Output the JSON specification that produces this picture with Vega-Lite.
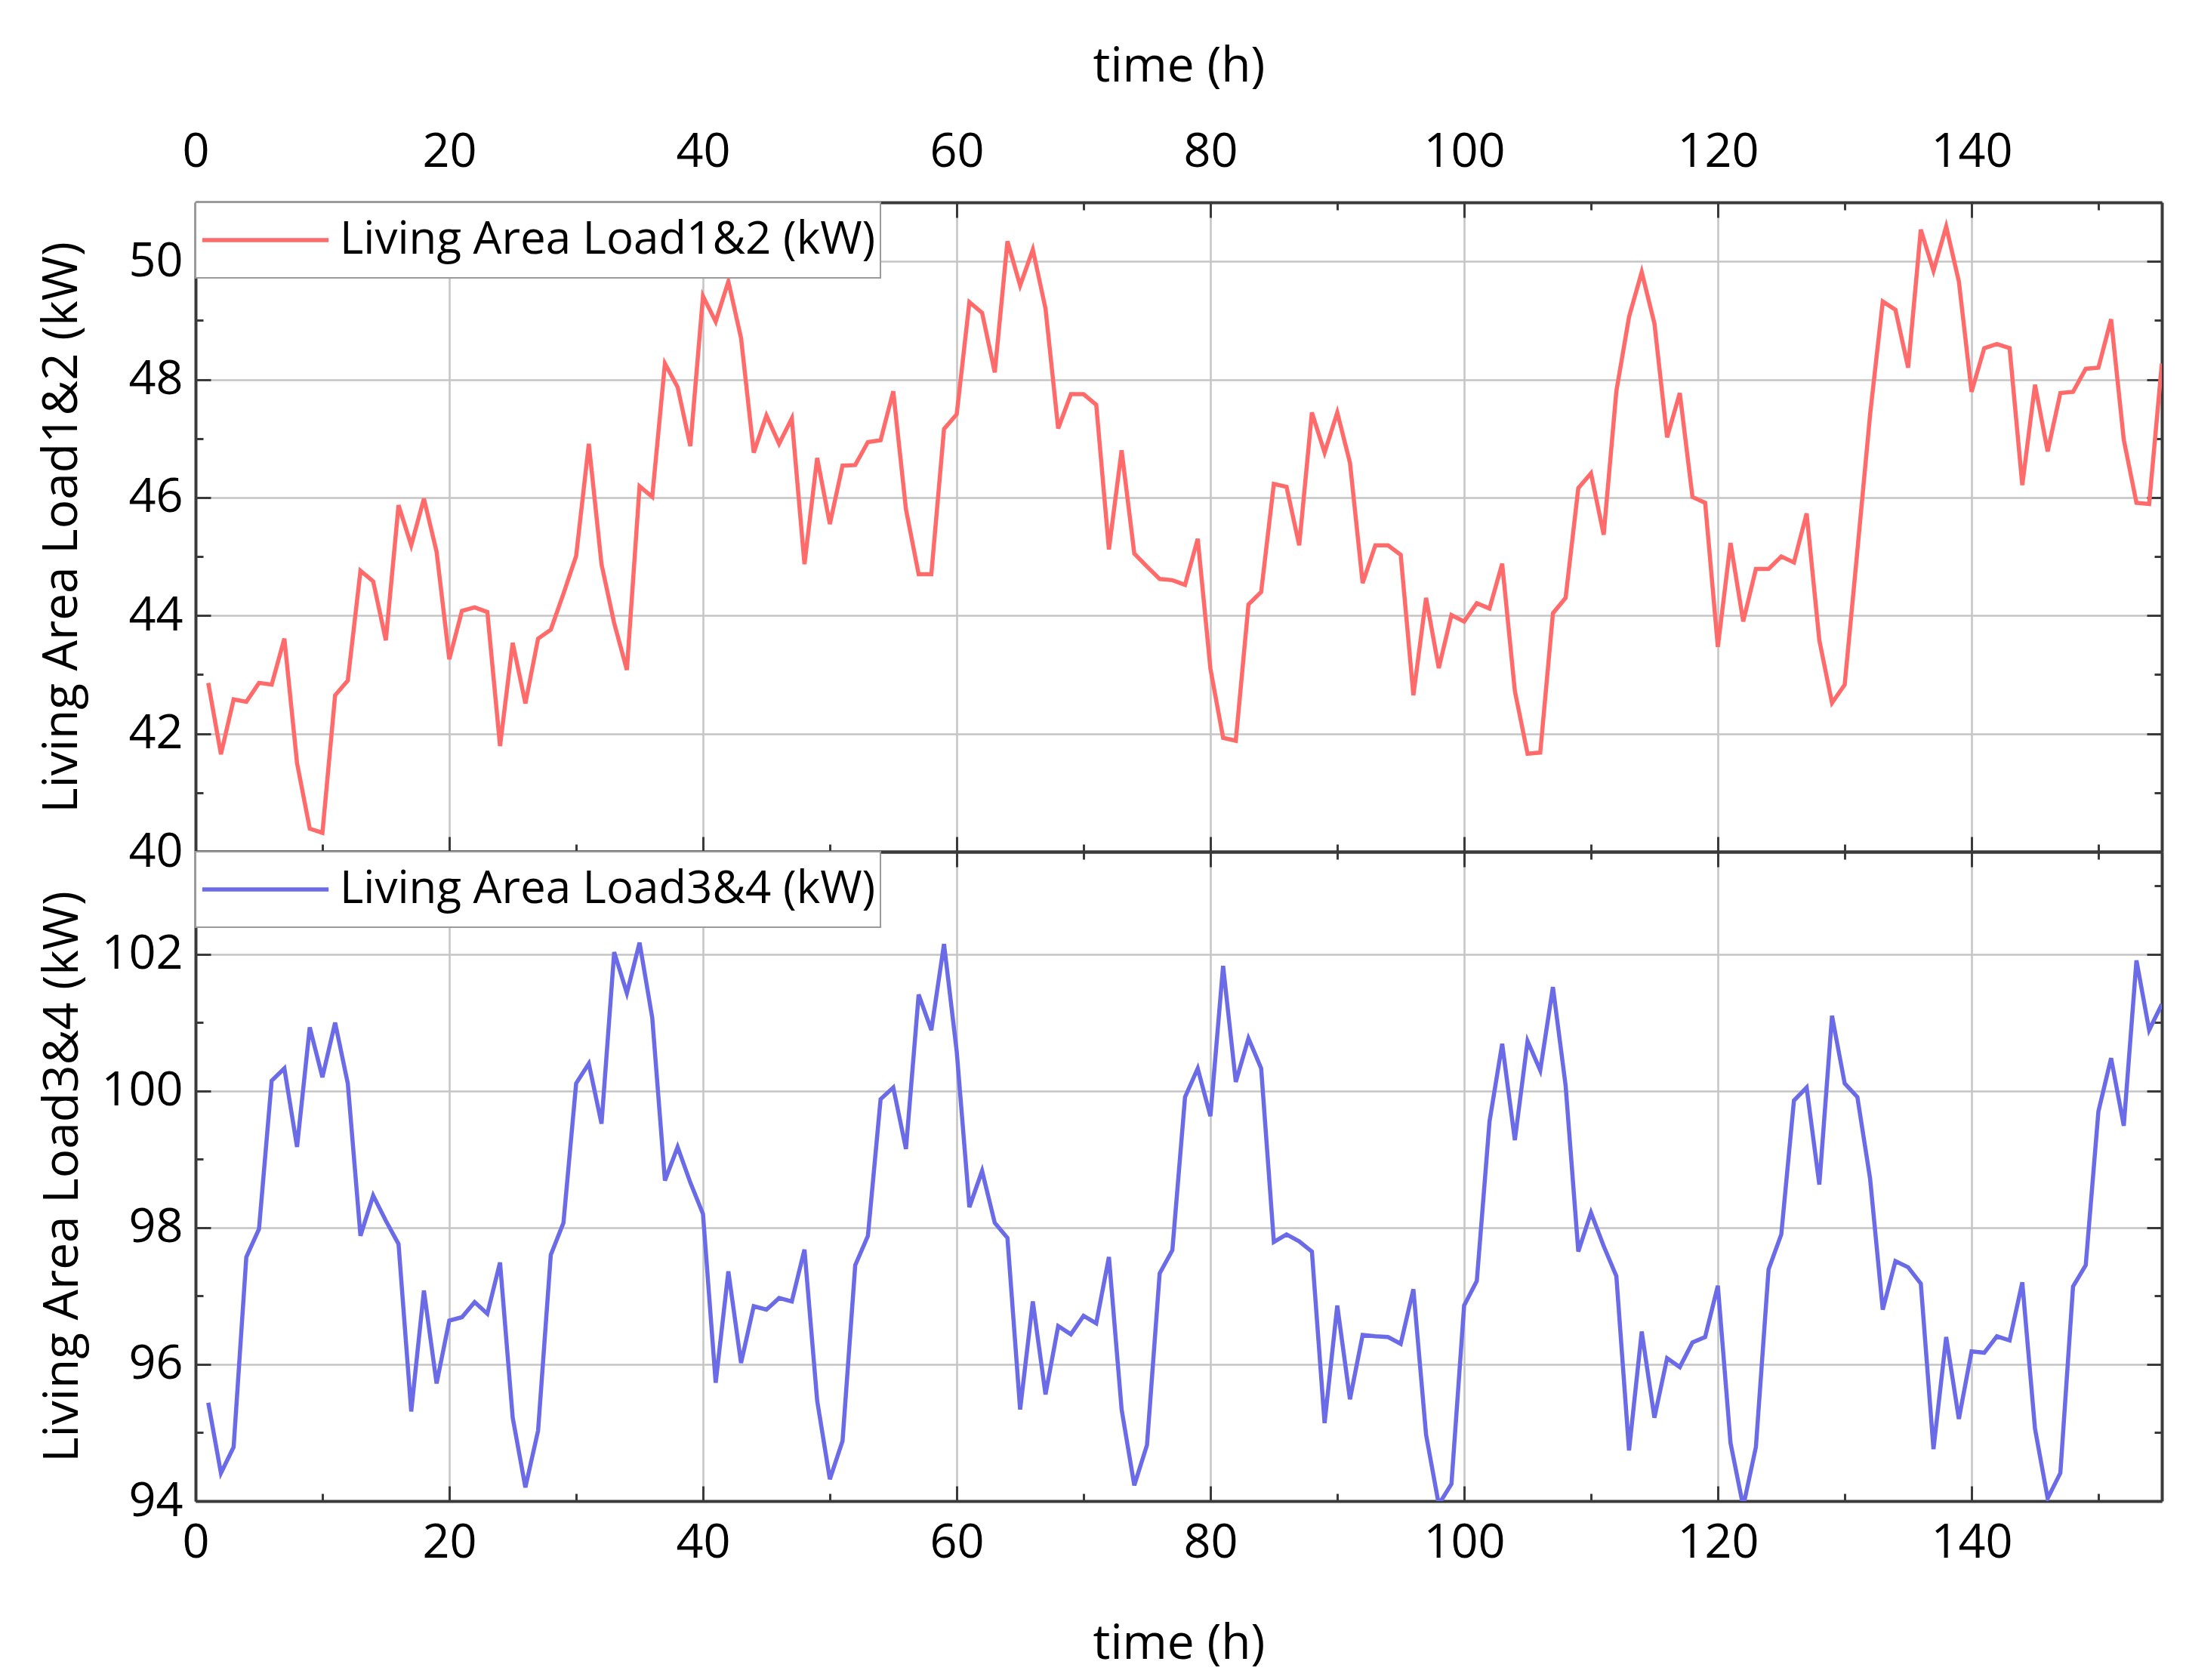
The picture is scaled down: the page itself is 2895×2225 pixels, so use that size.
{
  "$schema": "https://vega.github.io/schema/vega-lite/v6.json",
  "description": "Living area loads over time, two stacked panels",
  "background": "white",
  "padding": {"left": 50, "top": 56, "right": 30, "bottom": 10},
  "spacing": 0,
  "bounds": "flush",
  "data": {
    "values": [
      {"hour": 1, "a": 42.86, "b": 95.44}, {"hour": 2, "a": 41.65, "b": 94.41}, {"hour": 3, "a": 42.58, "b": 94.79},
      {"hour": 4, "a": 42.54, "b": 97.57}, {"hour": 5, "a": 42.86, "b": 97.98}, {"hour": 6, "a": 42.83, "b": 100.15},
      {"hour": 7, "a": 43.61, "b": 100.33}, {"hour": 8, "a": 41.5, "b": 99.18}, {"hour": 9, "a": 40.39, "b": 100.93},
      {"hour": 10, "a": 40.32, "b": 100.2}, {"hour": 11, "a": 42.65, "b": 101.0}, {"hour": 12, "a": 42.9, "b": 100.11},
      {"hour": 13, "a": 44.76, "b": 97.88}, {"hour": 14, "a": 44.58, "b": 98.47}, {"hour": 15, "a": 43.58, "b": 98.1},
      {"hour": 16, "a": 45.87, "b": 97.76}, {"hour": 17, "a": 45.19, "b": 95.31}, {"hour": 18, "a": 45.98, "b": 97.08},
      {"hour": 19, "a": 45.08, "b": 95.72}, {"hour": 20, "a": 43.26, "b": 96.64}, {"hour": 21, "a": 44.08, "b": 96.69},
      {"hour": 22, "a": 44.14, "b": 96.91}, {"hour": 23, "a": 44.06, "b": 96.74}, {"hour": 24, "a": 41.79, "b": 97.49},
      {"hour": 25, "a": 43.54, "b": 95.22}, {"hour": 26, "a": 42.51, "b": 94.2}, {"hour": 27, "a": 43.61, "b": 95.03},
      {"hour": 28, "a": 43.76, "b": 97.6}, {"hour": 29, "a": 44.37, "b": 98.07}, {"hour": 30, "a": 45.01, "b": 100.11},
      {"hour": 31, "a": 46.91, "b": 100.4}, {"hour": 32, "a": 44.87, "b": 99.52}, {"hour": 33, "a": 43.87, "b": 102.03},
      {"hour": 34, "a": 43.08, "b": 101.43}, {"hour": 35, "a": 46.19, "b": 102.17}, {"hour": 36, "a": 46.01, "b": 101.07},
      {"hour": 37, "a": 48.27, "b": 98.69}, {"hour": 38, "a": 47.87, "b": 99.18}, {"hour": 39, "a": 46.87, "b": 98.66},
      {"hour": 40, "a": 49.41, "b": 98.2}, {"hour": 41, "a": 48.98, "b": 95.73}, {"hour": 42, "a": 49.66, "b": 97.36},
      {"hour": 43, "a": 48.7, "b": 96.02}, {"hour": 44, "a": 46.76, "b": 96.85}, {"hour": 45, "a": 47.39, "b": 96.8},
      {"hour": 46, "a": 46.91, "b": 96.97}, {"hour": 47, "a": 47.34, "b": 96.92}, {"hour": 48, "a": 44.87, "b": 97.68},
      {"hour": 49, "a": 46.67, "b": 95.47}, {"hour": 50, "a": 45.55, "b": 94.32}, {"hour": 51, "a": 46.54, "b": 94.88},
      {"hour": 52, "a": 46.55, "b": 97.45}, {"hour": 53, "a": 46.94, "b": 97.88}, {"hour": 54, "a": 46.97, "b": 99.88},
      {"hour": 55, "a": 47.8, "b": 100.05}, {"hour": 56, "a": 45.8, "b": 99.15}, {"hour": 57, "a": 44.7, "b": 101.41},
      {"hour": 58, "a": 44.7, "b": 100.89}, {"hour": 59, "a": 47.16, "b": 102.15}, {"hour": 60, "a": 47.41, "b": 100.58},
      {"hour": 61, "a": 49.31, "b": 98.3}, {"hour": 62, "a": 49.13, "b": 98.83}, {"hour": 63, "a": 48.12, "b": 98.07},
      {"hour": 64, "a": 50.34, "b": 97.85}, {"hour": 65, "a": 49.59, "b": 95.34}, {"hour": 66, "a": 50.2, "b": 96.92},
      {"hour": 67, "a": 49.2, "b": 95.56}, {"hour": 68, "a": 47.17, "b": 96.56}, {"hour": 69, "a": 47.75, "b": 96.44},
      {"hour": 70, "a": 47.75, "b": 96.71}, {"hour": 71, "a": 47.57, "b": 96.6}, {"hour": 72, "a": 45.12, "b": 97.57},
      {"hour": 73, "a": 46.8, "b": 95.34}, {"hour": 74, "a": 45.05, "b": 94.23}, {"hour": 75, "a": 44.83, "b": 94.82},
      {"hour": 76, "a": 44.62, "b": 97.33}, {"hour": 77, "a": 44.6, "b": 97.67}, {"hour": 78, "a": 44.52, "b": 99.91},
      {"hour": 79, "a": 45.3, "b": 100.33}, {"hour": 80, "a": 43.1, "b": 99.63}, {"hour": 81, "a": 41.93, "b": 101.83},
      {"hour": 82, "a": 41.88, "b": 100.13}, {"hour": 83, "a": 44.19, "b": 100.77}, {"hour": 84, "a": 44.4, "b": 100.33},
      {"hour": 85, "a": 46.23, "b": 97.79}, {"hour": 86, "a": 46.18, "b": 97.9}, {"hour": 87, "a": 45.19, "b": 97.8},
      {"hour": 88, "a": 47.44, "b": 97.65}, {"hour": 89, "a": 46.76, "b": 95.14}, {"hour": 90, "a": 47.44, "b": 96.86},
      {"hour": 91, "a": 46.59, "b": 95.49}, {"hour": 92, "a": 44.55, "b": 96.43}, {"hour": 93, "a": 45.19, "b": 96.41},
      {"hour": 94, "a": 45.19, "b": 96.4}, {"hour": 95, "a": 45.03, "b": 96.3}, {"hour": 96, "a": 42.65, "b": 97.1},
      {"hour": 97, "a": 44.3, "b": 94.97}, {"hour": 98, "a": 43.11, "b": 93.95}, {"hour": 99, "a": 44.01, "b": 94.25},
      {"hour": 100, "a": 43.9, "b": 96.86}, {"hour": 101, "a": 44.21, "b": 97.22}, {"hour": 102, "a": 44.12, "b": 99.55},
      {"hour": 103, "a": 44.88, "b": 100.69}, {"hour": 104, "a": 42.72, "b": 99.28}, {"hour": 105, "a": 41.66, "b": 100.73},
      {"hour": 106, "a": 41.68, "b": 100.3}, {"hour": 107, "a": 44.04, "b": 101.52}, {"hour": 108, "a": 44.3, "b": 100.08},
      {"hour": 109, "a": 46.16, "b": 97.65}, {"hour": 110, "a": 46.41, "b": 98.22}, {"hour": 111, "a": 45.37, "b": 97.73},
      {"hour": 112, "a": 47.8, "b": 97.29}, {"hour": 113, "a": 49.06, "b": 94.74}, {"hour": 114, "a": 49.82, "b": 96.48},
      {"hour": 115, "a": 48.95, "b": 95.22}, {"hour": 116, "a": 47.02, "b": 96.09}, {"hour": 117, "a": 47.77, "b": 95.96},
      {"hour": 118, "a": 46.01, "b": 96.32}, {"hour": 119, "a": 45.91, "b": 96.4}, {"hour": 120, "a": 43.47, "b": 97.15},
      {"hour": 121, "a": 45.23, "b": 94.85}, {"hour": 122, "a": 43.9, "b": 93.92}, {"hour": 123, "a": 44.79, "b": 94.79},
      {"hour": 124, "a": 44.79, "b": 97.39}, {"hour": 125, "a": 45.0, "b": 97.9}, {"hour": 126, "a": 44.9, "b": 99.86},
      {"hour": 127, "a": 45.73, "b": 100.05}, {"hour": 128, "a": 43.58, "b": 98.63}, {"hour": 129, "a": 42.52, "b": 101.1},
      {"hour": 130, "a": 42.83, "b": 100.11}, {"hour": 131, "a": 45.1, "b": 99.91}, {"hour": 132, "a": 47.4, "b": 98.72},
      {"hour": 133, "a": 49.32, "b": 96.8}, {"hour": 134, "a": 49.18, "b": 97.51}, {"hour": 135, "a": 48.2, "b": 97.42},
      {"hour": 136, "a": 50.54, "b": 97.18}, {"hour": 137, "a": 49.84, "b": 94.76}, {"hour": 138, "a": 50.59, "b": 96.4},
      {"hour": 139, "a": 49.66, "b": 95.2}, {"hour": 140, "a": 47.79, "b": 96.19}, {"hour": 141, "a": 48.53, "b": 96.17},
      {"hour": 142, "a": 48.6, "b": 96.41}, {"hour": 143, "a": 48.53, "b": 96.35}, {"hour": 144, "a": 46.21, "b": 97.2},
      {"hour": 145, "a": 47.91, "b": 95.06}, {"hour": 146, "a": 46.78, "b": 94.04}, {"hour": 147, "a": 47.77, "b": 94.41},
      {"hour": 148, "a": 47.79, "b": 97.14}, {"hour": 149, "a": 48.18, "b": 97.45}, {"hour": 150, "a": 48.2, "b": 99.7},
      {"hour": 151, "a": 49.02, "b": 100.48}, {"hour": 152, "a": 46.98, "b": 99.49}, {"hour": 153, "a": 45.91, "b": 101.91},
      {"hour": 154, "a": 45.89, "b": 100.89}, {"hour": 155, "a": 48.27, "b": 101.27}
    ]
  },
  "resolve": {"scale": {"color": "independent", "y": "independent"}, "legend": {"color": "independent"}},
  "vconcat": [
    {
      "width": 2604,
      "height": 860,
      "layer": [
        {
          "mark": {"type": "line", "strokeWidth": 5.5, "clip": true},
          "encoding": {
            "x": {
              "field": "hour", "type": "quantitative",
              "scale": {"domain": [0, 155], "nice": false, "zero": false},
              "axis": {
                "orient": "top", "title": "time (h)",
                "values": [0, 10, 20, 30, 40, 50, 60, 70, 80, 90, 100, 110, 120, 130, 140, 150],
                "labelExpr": "datum.value % 20 === 0 ? datum.label : ''",
                "tickSize": {"condition": {"test": "datum.value % 20 === 0", "value": -20}, "value": -10},
                "labelPadding": 55, "titlePadding": 40,
                "grid": true,
                "gridOpacity": {"condition": {"test": "datum.value % 20 === 0", "value": 1}, "value": 0}
              }
            },
            "y": {
              "field": "a", "type": "quantitative",
              "scale": {"domain": [40, 51], "nice": false, "zero": false},
              "axis": {
                "orient": "left", "title": "Living Area Load1&2 (kW)",
                "values": [40, 41, 42, 43, 44, 45, 46, 47, 48, 49, 50, 51],
                "labelExpr": "datum.value % 2 === 0 ? datum.label : ''",
                "tickSize": {"condition": {"test": "datum.value % 2 === 0", "value": -20}, "value": -10},
                "labelPadding": 37, "titlePadding": 55,
                "grid": true,
                "gridOpacity": {"condition": {"test": "datum.value % 2 === 0", "value": 1}, "value": 0}
              }
            },
            "color": {
              "datum": "Living Area Load1&2 (kW)",
              "scale": {"range": ["#ff6b6b"]},
              "legend": {"orient": "top-left", "offset": 0, "title": null}
            }
          }
        },
        {
          "mark": {"type": "line", "strokeOpacity": 0},
          "encoding": {
            "x": {
              "field": "hour", "type": "quantitative",
              "axis": {
                "orient": "bottom", "title": null, "labels": false, "grid": false,
                "values": [0, 10, 20, 30, 40, 50, 60, 70, 80, 90, 100, 110, 120, 130, 140, 150],
                "tickSize": {"condition": {"test": "datum.value % 20 === 0", "value": -20}, "value": -10}
              }
            },
            "y": {
              "field": "a", "type": "quantitative",
              "axis": {
                "orient": "right", "title": null, "labels": false, "grid": false,
                "values": [40, 41, 42, 43, 44, 45, 46, 47, 48, 49, 50, 51],
                "tickSize": {"condition": {"test": "datum.value % 2 === 0", "value": -20}, "value": -10}
              }
            }
          }
        }
      ]
    },
    {
      "width": 2604,
      "height": 860,
      "layer": [
        {
          "mark": {"type": "line", "strokeWidth": 5.5, "clip": true},
          "encoding": {
            "x": {
              "field": "hour", "type": "quantitative",
              "scale": {"domain": [0, 155], "nice": false, "zero": false},
              "axis": {
                "orient": "bottom", "title": "time (h)",
                "values": [0, 10, 20, 30, 40, 50, 60, 70, 80, 90, 100, 110, 120, 130, 140, 150],
                "labelExpr": "datum.value % 20 === 0 ? datum.label : ''",
                "tickSize": {"condition": {"test": "datum.value % 20 === 0", "value": -20}, "value": -10},
                "labelPadding": 44, "titlePadding": 60,
                "grid": true,
                "gridOpacity": {"condition": {"test": "datum.value % 20 === 0", "value": 1}, "value": 0}
              }
            },
            "y": {
              "field": "b", "type": "quantitative",
              "scale": {"domain": [94, 103.5], "nice": false, "zero": false},
              "axis": {
                "orient": "left", "title": "Living Area Load3&4 (kW)",
                "values": [94, 95, 96, 97, 98, 99, 100, 101, 102, 103],
                "labelExpr": "datum.value % 2 === 0 ? datum.label : ''",
                "tickSize": {"condition": {"test": "datum.value % 2 === 0", "value": -20}, "value": -10},
                "labelPadding": 37, "titlePadding": 18,
                "grid": true,
                "gridOpacity": {"condition": {"test": "datum.value % 2 === 0", "value": 1}, "value": 0}
              }
            },
            "color": {
              "datum": "Living Area Load3&4 (kW)",
              "scale": {"range": ["#6b6be8"]},
              "legend": {"orient": "top-left", "offset": 0, "title": null}
            }
          }
        },
        {
          "mark": {"type": "line", "strokeOpacity": 0},
          "encoding": {
            "x": {
              "field": "hour", "type": "quantitative",
              "axis": {
                "orient": "top", "title": null, "labels": false, "grid": false,
                "values": [0, 10, 20, 30, 40, 50, 60, 70, 80, 90, 100, 110, 120, 130, 140, 150],
                "tickSize": {"condition": {"test": "datum.value % 20 === 0", "value": -20}, "value": -10}
              }
            },
            "y": {
              "field": "b", "type": "quantitative",
              "axis": {
                "orient": "right", "title": null, "labels": false, "grid": false,
                "values": [94, 95, 96, 97, 98, 99, 100, 101, 102, 103],
                "tickSize": {"condition": {"test": "datum.value % 2 === 0", "value": -20}, "value": -10}
              }
            }
          }
        }
      ]
    }
  ],
  "config": {
    "font": "Open Sans",
    "view": {"stroke": null},
    "axis": {
      "domainColor": "#3a3a3a", "domainWidth": 4,
      "tickColor": "#3a3a3a", "tickWidth": 3,
      "gridColor": "#c4c4c4", "gridWidth": 2.5,
      "labelFont": "Open Sans", "labelFontSize": 63, "labelColor": "black",
      "titleFont": "Open Sans", "titleFontSize": 64, "titleFontWeight": "normal", "titleColor": "black",
      "labelOverlap": false, "labelFlush": false
    },
    "legend": {
      "labelFont": "Open Sans", "labelFontSize": 60, "labelColor": "black", "labelLimit": 0,
      "symbolType": "stroke", "symbolSize": 28000, "symbolStrokeWidth": 5.5,
      "labelOffset": 12, "padding": 6, "clipHeight": 88,
      "fillColor": "white", "strokeColor": "#9a9a9a", "strokeWidth": 2, "cornerRadius": 0
    }
  }
}
